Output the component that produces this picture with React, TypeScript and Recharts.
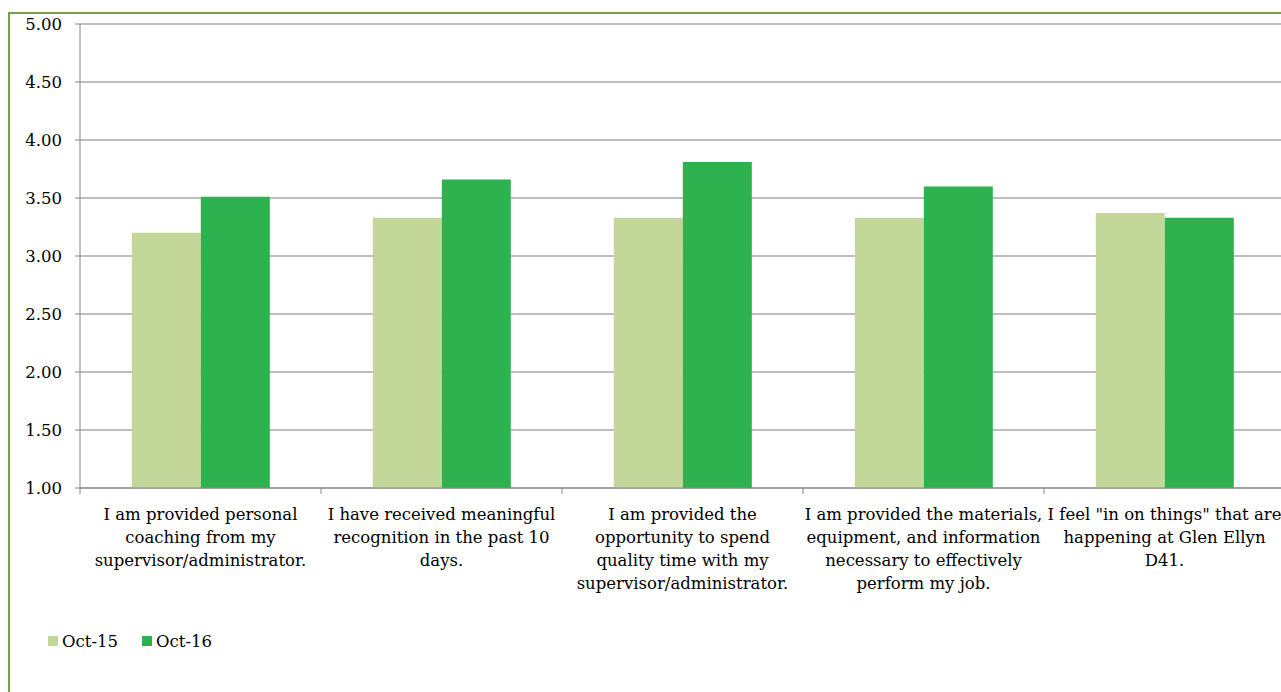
import { BarChart, Bar, XAxis, YAxis, CartesianGrid, Legend } from "recharts";

const questions = [
  "I am provided personal\ncoaching from my\nsupervisor/administrator.",
  "I have received meaningful\nrecognition in the past 10\ndays.",
  "I am provided the\nopportunity to spend\nquality time with my\nsupervisor/administrator.",
  "I am provided the materials,\nequipment, and information\nnecessary to effectively\nperform my job.",
  'I feel "in on things" that are\nhappening at Glen Ellyn\nD41.',
];
const oct15 = [3.2, 3.33, 3.33, 3.33, 3.37];
const oct16 = [3.51, 3.66, 3.81, 3.6, 3.33];
const yTicks = [1, 1.5, 2, 2.5, 3, 3.5, 4, 4.5, 5];

const seriesNames = ["Oct-15", "Oct-16"];
const colors = ["#c4d79b", "#2eb24f"];

const data = questions.map((q, i) => ({
  question: q,
  "Oct-15": oct15[i],
  "Oct-16": oct16[i],
}));

const FONT = "'DejaVu Serif', serif";
const FS = 16.5;

// label wrapped on \n, plus a tick mark at the left edge of each category
const QuestionTick = (props: any) => {
  const { x, y, payload, width, visibleTicksCount } = props;
  const half = width / (2 * visibleTicksCount);
  const lines = String(payload.value).split("\n");
  return (
    <g>
      <line x1={x - half} x2={x - half} y1={y} y2={y + 6} stroke="#868686" />
      <text
        x={x}
        y={y + 32}
        textAnchor="middle"
        fontFamily={FONT}
        fontSize={FS}
        fill="#000"
      >
        {lines.map((l, i) => (
          <tspan key={i} x={x} dy={i === 0 ? 0 : 23}>
            {l}
          </tspan>
        ))}
      </text>
    </g>
  );
};

const renderLegend = () => (
  <div style={{ display: "flex", height: 20, alignItems: "center" }}>
    {seriesNames.map((n, i) => (
      <div
        key={n}
        style={{ display: "flex", alignItems: "center", marginRight: 24 }}
      >
        <span
          style={{
            width: 10,
            height: 10,
            background: colors[i],
            display: "inline-block",
            marginRight: 4,
          }}
        />
        <span style={{ fontFamily: FONT, fontSize: FS, color: "#000" }}>
          {n}
        </span>
      </div>
    ))}
  </div>
);

export default function App() {
  return (
    <>
      <style>{`body{margin:0;overflow:hidden}`}</style>
      <div
        style={{
          position: "absolute",
          left: 8,
          top: 12,
          width: 1294,
          height: 700,
          border: "2px solid #7aa23c",
          background: "#fff",
        }}
      >
        <BarChart
          width={1290}
          height={674}
          data={data}
          margin={{ top: 10, right: 15, bottom: 60, left: 10 }}
          barCategoryGap="21.5%"
          barGap={0}
        >
          <CartesianGrid
            vertical={false}
            stroke="#a9a9a9"
            strokeWidth={1.4}
          />
          <XAxis
            dataKey="question"
            height={120}
            interval={0}
            tickLine={false}
            tickSize={0}
            tickMargin={0}
            axisLine={{ stroke: "#868686" }}
            tick={<QuestionTick />}
          />
          <YAxis
            domain={[1, 5]}
            ticks={yTicks}
            width={60}
            tickSize={5}
            tickMargin={13}
            tickLine={{ stroke: "#868686" }}
            axisLine={{ stroke: "#868686" }}
            tickFormatter={(v: number) => v.toFixed(2)}
            tick={{ fontFamily: FONT, fontSize: FS, fill: "#000" }}
          />
          <Legend
            verticalAlign="bottom"
            align="left"
            content={renderLegend}
            wrapperStyle={{ left: 38, top: 617, width: 300 }}
          />
          {seriesNames.map((n, i) => (
            <Bar
              key={n}
              dataKey={n}
              fill={colors[i]}
              isAnimationActive={false}
            />
          ))}
        </BarChart>
      </div>
    </>
  );
}
